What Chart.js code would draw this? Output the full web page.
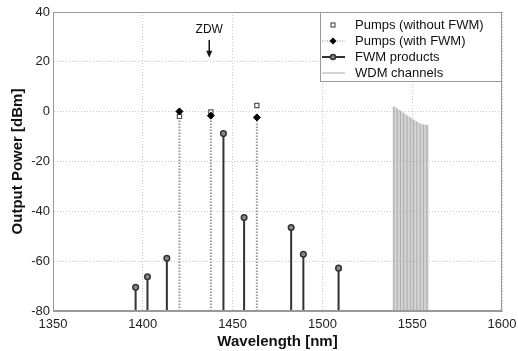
<!DOCTYPE html>
<html>
<head>
<meta charset="utf-8">
<script src="https://cdn.jsdelivr.net/npm/chart.js@4.4.1/dist/chart.umd.min.js"></script>
<style>
  html, body { margin: 0; padding: 0; background: #fff; }
  #wrap { width: 518px; height: 351px; }
</style>
</head>
<body>
<div id="wrap"><canvas id="myChart"></canvas></div>
<script>
// pumps
const pumpWl = [1420.4, 1437.9, 1463.5]
const pumpNoFwm = [-1.9, -0.1, 2.5]
const pumpWithFwm = [0.1, -1.6, -2.3]

// four-wave mixing products
const fwmWl = [1396, 1402.6, 1413.4, 1444.9, 1456.4, 1482.6, 1489.4, 1509]
const fwmPower = [-70.5, -66.3, -58.8, -8.8, -42.5, -46.5, -57.2, -62.8]

// WDM channels
const wdmWl = [1539.5, 1540.3, 1541.1, 1541.9, 1542.7, 1543.5, 1544.3, 1545.1, 1545.9,
    1546.7, 1547.5, 1548.3, 1549.1, 1549.9, 1550.7, 1551.5, 1552.3, 1553.1,
    1553.9, 1554.7, 1555.5, 1556.3, 1557.1, 1557.9, 1558.7]
const wdmPower = [2.1, 1.9, 1.6, 1.2, 0.8, 0.4, 0.0, -0.4, -0.8,
    -1.2, -1.6, -2.0, -2.4, -2.8, -3.1, -3.5, -3.8, -4.2,
    -4.5, -4.8, -5.0, -5.1, -5.2, -5.2, -5.3]

const xTicks = [1350, 1400, 1450, 1500, 1550, 1600]
const yTicks = [-80, -60, -40, -20, 0, 20, 40]
const floorDb = -80
const zdwWl = 1437

const legendItems = ['Pumps (without FWM)', 'Pumps (with FWM)', 'FWM products', 'WDM channels']

const FONT = '"Liberation Sans", Arial, sans-serif'

// stem line: floor -> value, then a gap
function stems(xs, ys) {
    let out = []
    xs.map((x, i) => {
        out.push({ x: x, y: floorDb })
        out.push({ x: x, y: ys[i] })
        out.push({ x: x, y: null })
    })
    return out
}
function pts(xs, ys) {
    return xs.map((x, i) => ({ x: x, y: ys[i] }))
}

const frame = {
    id: 'frame',
    afterDraw(chart) {
        const { ctx, chartArea: a, scales } = chart
        ctx.save()
        ctx.strokeStyle = '#999'
        ctx.lineWidth = 1
        ctx.strokeRect(a.left + 0.5, a.top + 0.5, a.right - a.left - 1, a.bottom - a.top - 1)

        // ZDW marker
        const zx = scales.x.getPixelForValue(zdwWl)
        ctx.fillStyle = '#111'
        ctx.font = '12px ' + FONT
        ctx.textAlign = 'center'
        ctx.textBaseline = 'middle'
        ctx.fillText('ZDW', zx, scales.y.getPixelForValue(32.8))
        const y1 = scales.y.getPixelForValue(28.8)
        const y2 = scales.y.getPixelForValue(21.6)
        ctx.strokeStyle = '#111'
        ctx.lineWidth = 1.5
        ctx.beginPath()
        ctx.moveTo(zx, y1)
        ctx.lineTo(zx, y2 - 5)
        ctx.stroke()
        ctx.beginPath()
        ctx.moveTo(zx - 3, y2 - 7)
        ctx.lineTo(zx + 3, y2 - 7)
        ctx.lineTo(zx, y2)
        ctx.closePath()
        ctx.fill()

        // legend box
        const lx = 320, ly = a.top, lw = a.right - 320, lh = 70
        ctx.fillStyle = '#fff'
        ctx.fillRect(lx, ly, lw, lh)
        ctx.strokeStyle = '#999'
        ctx.lineWidth = 1
        ctx.strokeRect(lx + 0.5, ly + 0.5, lw - 1, lh - 1)
        const rows = [25, 41, 57, 73]
        ctx.font = '13px ' + FONT
        ctx.textAlign = 'left'
        ctx.textBaseline = 'middle'
        legendItems.map((label, i) => {
            const cy = rows[i]
            const cx = 333
            ctx.save()
            if (i == 0) {
                ctx.strokeStyle = '#555'
                ctx.lineWidth = 1.2
                ctx.strokeRect(cx - 2, cy - 2, 4, 4)
            } else if (i == 1) {
                ctx.strokeStyle = '#888'
                ctx.lineWidth = 1
                ctx.setLineDash([1, 1.5])
                ctx.beginPath(); ctx.moveTo(322, cy); ctx.lineTo(345, cy); ctx.stroke()
                ctx.setLineDash([])
                ctx.fillStyle = '#000'
                ctx.beginPath()
                ctx.moveTo(cx, cy - 3.5); ctx.lineTo(cx + 3.5, cy); ctx.lineTo(cx, cy + 3.5); ctx.lineTo(cx - 3.5, cy)
                ctx.closePath(); ctx.fill()
            } else if (i == 2) {
                ctx.strokeStyle = '#333'
                ctx.lineWidth = 2
                ctx.beginPath(); ctx.moveTo(322, cy); ctx.lineTo(345, cy); ctx.stroke()
                ctx.fillStyle = '#888'
                ctx.lineWidth = 1.5
                ctx.beginPath(); ctx.arc(cx, cy, 2.5, 0, Math.PI * 2); ctx.fill(); ctx.stroke()
            } else {
                ctx.strokeStyle = '#aaa'
                ctx.lineWidth = 1
                ctx.beginPath(); ctx.moveTo(322, cy); ctx.lineTo(345, cy); ctx.stroke()
            }
            ctx.restore()
            ctx.fillStyle = '#111'
            ctx.fillText(label, 355, cy + 0.5)
        })
        ctx.restore()
    }
}

const ctx = document.getElementById('myChart').getContext('2d')

const config = {
    type: 'scatter',
    data: {
        datasets: [
            {
                label: 'WDM channels',
                data: stems(wdmWl, wdmPower),
                showLine: true,
                spanGaps: false,
                borderColor: '#999',
                borderWidth: 0.8,
                pointRadius: 0,
                order: 5,
            },
            {
                label: 'Pump stems',
                data: stems(pumpWl, pumpWithFwm),
                showLine: true,
                spanGaps: false,
                borderColor: '#999',
                borderWidth: 2,
                borderDash: [1.5, 1.5],
                pointRadius: 0,
                order: 4,
            },
            {
                label: 'FWM stems',
                data: stems(fwmWl, fwmPower),
                showLine: true,
                spanGaps: false,
                borderColor: '#333',
                borderWidth: 2,
                pointRadius: 0,
                order: 3,
            },
            {
                label: 'FWM products',
                data: pts(fwmWl, fwmPower),
                pointStyle: 'circle',
                pointRadius: 2.8,
                borderWidth: 1.5,
                borderColor: '#333',
                backgroundColor: '#888',
                order: 2,
            },
            {
                label: 'Pumps (without FWM)',
                data: pts(pumpWl, pumpNoFwm),
                pointStyle: 'rect',
                pointRadius: 3,
                borderWidth: 1.2,
                borderColor: '#555',
                backgroundColor: '#fff',
                order: 1,
            },
            {
                label: 'Pumps (with FWM)',
                data: pts(pumpWl, pumpWithFwm),
                pointStyle: 'rectRot',
                pointRadius: 3.5,
                borderWidth: 1,
                borderColor: '#000',
                backgroundColor: '#000',
                order: 0,
            },
        ]
    },
    options: {
        responsive: true,
        maintainAspectRatio: false,
        animation: false,
        layout: { padding: { top: 12, right: 0, left: 0, bottom: 0 } },
        plugins: {
            legend: { display: false },
            tooltip: { enabled: false },
        },
        scales: {
            x: {
                type: 'linear',
                min: 1350,
                max: 1600,
                afterBuildTicks: (s) => { s.ticks = xTicks.map(v => ({ value: v })) },
                afterFit: (s) => { s.height = 40; s.paddingRight = 16 },
                ticks: {
                    color: '#222', font: { family: FONT, size: 13 }, padding: 6,
                    callback: (v) => String(v),
                },
                grid: { color: '#c8c8c8', lineWidth: 1, drawTicks: false },
                border: { color: '#999', dash: [1, 2] },
                title: {
                    display: true,
                    text: 'Wavelength [nm]',
                    color: '#111',
                    font: { family: FONT, size: 15, weight: 'bold' },
                    padding: { top: 0, bottom: 0 },
                },
            },
            y: {
                type: 'linear',
                min: -80,
                max: 40,
                afterBuildTicks: (s) => { s.ticks = yTicks.map(v => ({ value: v })) },
                afterFit: (s) => { s.width = 53 },
                ticks: { color: '#222', font: { family: FONT, size: 13 }, padding: 3 },
                grid: { color: '#c8c8c8', lineWidth: 1, drawTicks: false },
                border: { color: '#999', dash: [1, 2] },
                title: {
                    display: true,
                    text: 'Output Power [dBm]',
                    color: '#111',
                    font: { family: FONT, size: 15, weight: 'bold' },
                    padding: { top: 9, bottom: 0 },
                },
            },
        },
    },
    plugins: [frame],
}

new Chart(ctx, config)
</script>
</body>
</html>
